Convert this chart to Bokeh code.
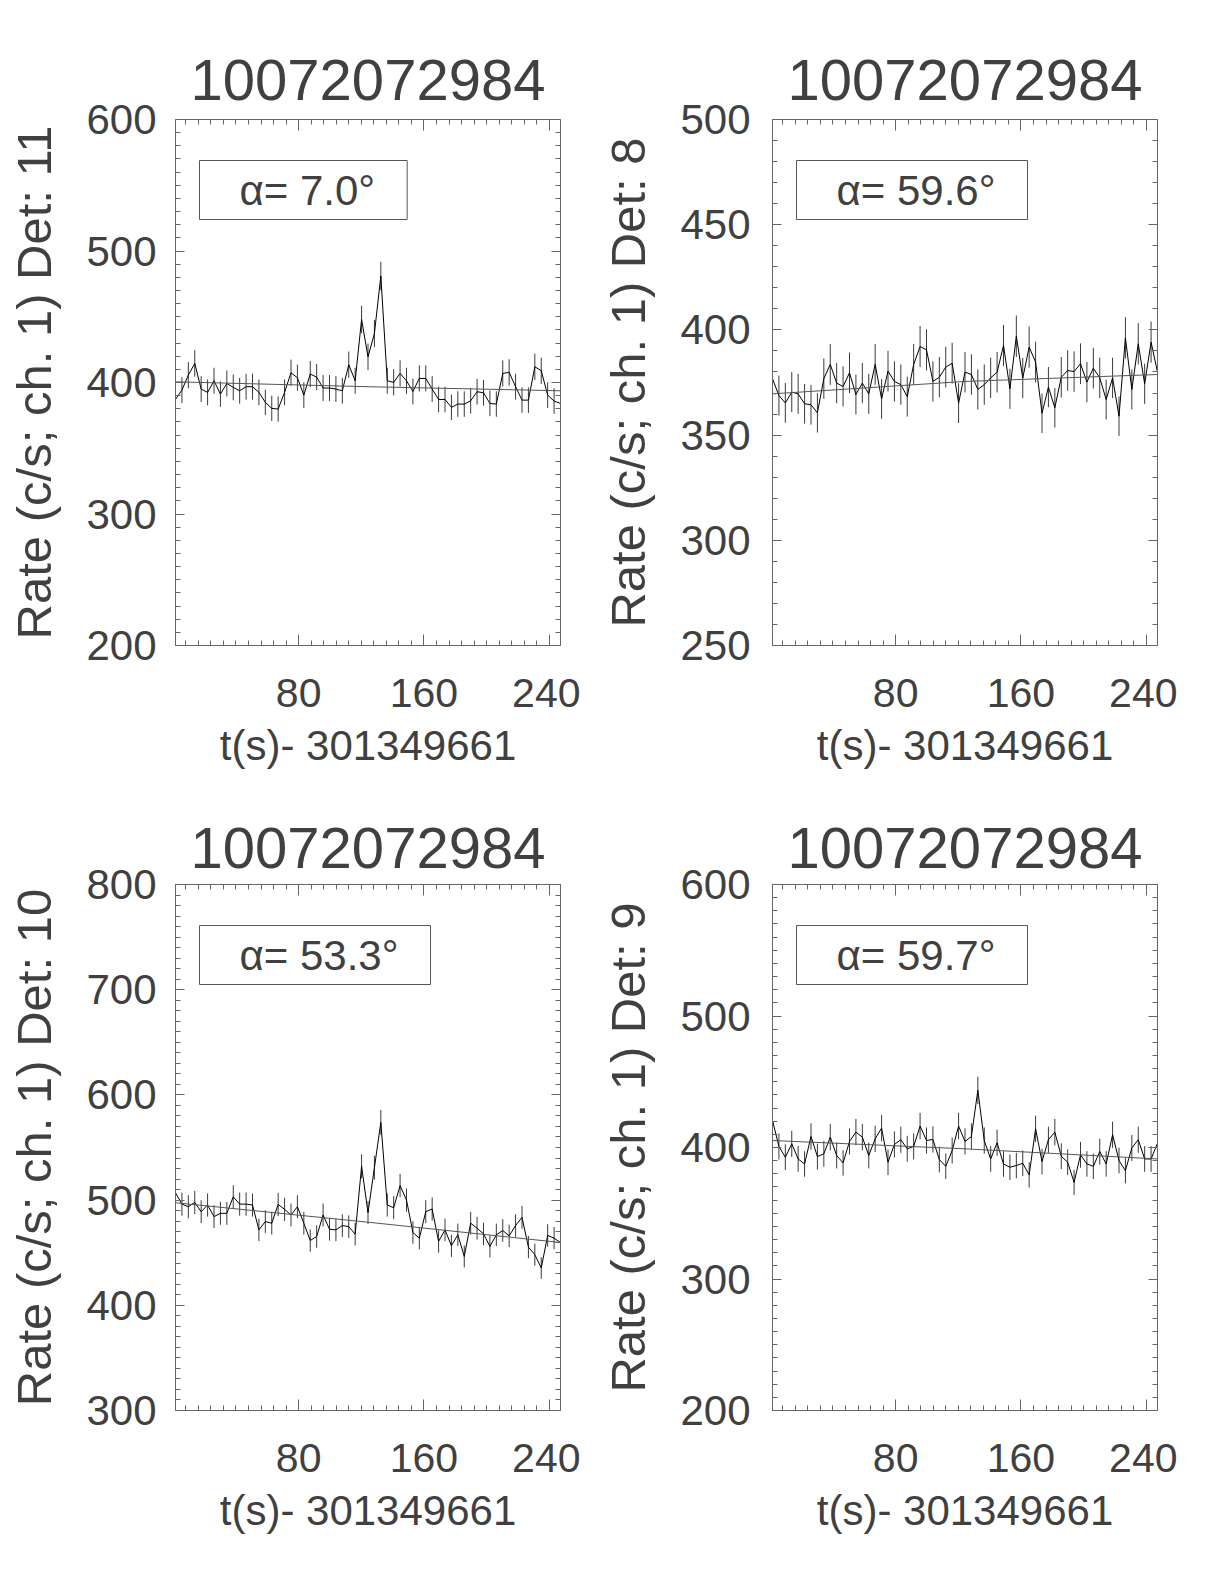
import numpy as np
from bokeh.plotting import figure
from bokeh.models import Range1d, FixedTicker, LinearAxis, Label, CustomJSTickFormatter
from bokeh.layouts import column, row
from bokeh.embed import file_html
from bokeh.resources import INLINE

# ---------------- data ----------------
title_text = "10072072984"
x_label = "t(s)- 301349661"
t_start = 1.4          # s after 301349661
bin_width = 4.096      # s
n_bins = 61
x_ticks = [80, 160, 240]

det_names = ["11", "8", "10", "9"]
alpha_deg = [7.0, 59.6, 53.3, 59.7]
y_limits = [(200, 600), (250, 500), (300, 800), (200, 600)]
y_ticks = [[200, 300, 400, 500, 600],
           [250, 300, 350, 400, 450, 500],
           [300, 400, 500, 600, 700, 800],
           [200, 300, 400, 500, 600]]

rate_det11 = [387.1, 394.2, 405.6, 414.5, 395.0, 392.5, 401.3, 391.2, 399.3, 396.3,
              393.7, 396.8, 396.8, 392.5, 384.9, 380.3, 379.8, 392.5, 407.4, 403.6,
              390.4, 406.4, 404.1, 395.8, 395.8, 395.0, 393.7, 413.5, 401.3, 447.9,
              419.5, 437.3, 481.0, 401.3, 400.1, 406.9, 401.3, 393.2, 403.1, 403.1,
              395.0, 387.1, 387.1, 381.1, 383.6, 383.6, 386.1, 393.0, 392.2, 384.1,
              383.6, 406.9, 407.7, 396.8, 386.6, 386.6, 412.0, 408.9, 390.4, 385.9,
              384.1]
rate_det8 = [376.8, 368.8, 365.3, 370.4, 369.6, 364.9, 364.4, 360.6, 376.8, 383.6,
             374.7, 373.1, 379.6, 369.3, 374.7, 369.6, 383.6, 367.2, 380.4, 375.5,
             374.0, 368.3, 383.6, 392.1, 390.5, 375.5, 377.5, 382.3, 384.2, 365.2,
             379.9, 378.8, 371.7, 374.0, 377.2, 379.9, 392.6, 372.0, 397.0, 377.1,
             391.8, 384.7, 360.4, 372.8, 363.0, 377.5, 380.7, 380.2, 383.9, 375.2,
             381.8, 377.2, 366.9, 377.2, 359.0, 396.2, 371.7, 393.4, 374.4, 394.2,
             379.9]
rate_det10 = [506.9, 496.2, 493.7, 497.8, 489.0, 495.3, 484.3, 487.4, 487.4, 503.1,
              496.2, 496.2, 495.3, 471.7, 479.6, 478.0, 495.9, 491.2, 485.8, 493.7,
              478.0, 461.6, 465.4, 485.8, 472.3, 471.7, 475.8, 474.8, 467.6, 532.1,
              488.0, 530.8, 573.9, 495.3, 492.8, 513.8, 500.0, 469.2, 463.8, 489.0,
              491.5, 460.7, 471.7, 456.6, 467.0, 446.5, 478.0, 473.3, 467.9, 456.0,
              467.0, 471.1, 466.0, 475.8, 483.6, 455.3, 448.1, 435.5, 466.4, 463.8,
              459.7]
rate_det9 = [420.6, 400.8, 392.6, 402.8, 391.3, 387.5, 408.4, 393.1, 395.2, 407.9,
             393.9, 388.3, 404.6, 411.7, 407.9, 393.9, 406.6, 414.7, 388.8, 402.3,
             405.9, 399.0, 400.8, 416.3, 405.3, 406.1, 390.8, 385.7, 397.7, 416.3,
             404.6, 408.4, 443.5, 405.3, 391.3, 403.6, 387.5, 385.0, 386.3, 388.0,
             379.2, 414.2, 389.3, 405.9, 411.7, 393.4, 388.8, 373.5, 394.4, 387.5,
             385.7, 396.9, 387.5, 409.7, 390.1, 382.4, 399.7, 405.9, 391.3, 391.3,
             403.3]
rates = [rate_det11, rate_det8, rate_det10, rate_det9]

# fitted background, read at start / middle / end of the interval
bg_det11 = [400.5, 396.8, 393.7]
bg_det8 = [369.6, 375.5, 378.8]
bg_det10 = [497.5, 479.0, 459.7]
bg_det9 = [405.3, 399.0, 391.3]
backgrounds = [bg_det11, bg_det8, bg_det10, bg_det9]

# ---------------- style ----------------
FONT = "Liberation Sans"
TXT = "#404040"
AX = "#666666"
FRAME_W = 385
FRAME_H = 526

t = t_start + bin_width * np.arange(n_bins)
t_end = float(t[-1])
bg_t = [t_start, (t_start + t_end) / 2, t_end]


def style_axis(ax, major_in, minor_in):
    ax.axis_line_color = AX
    ax.major_tick_line_color = AX
    ax.minor_tick_line_color = AX
    ax.major_tick_in = major_in
    ax.major_tick_out = 0
    ax.minor_tick_in = minor_in
    ax.minor_tick_out = 0


def blank_axis(ticker, major_in, minor_in):
    ax = LinearAxis(ticker=ticker, formatter=CustomJSTickFormatter(code="return ''"),
                    major_label_text_font_size="0px", major_label_standoff=0)
    style_axis(ax, major_in, minor_in)
    return ax


def make_panel(k, left_b, right_b, top_b, bottom_b, ytick_standoff, ylab_standoff, title_standoff):
    rate = np.array(rates[k])
    err = np.sqrt(rate / bin_width)
    y0, y1 = y_limits[k]
    W = left_b + FRAME_W + right_b
    H = top_b + FRAME_H + bottom_b
    p = figure(width=W, height=H, x_range=Range1d(t_start, t_end), y_range=Range1d(y0, y1),
               output_backend="svg", toolbar_location=None, x_axis_type=None, y_axis_type=None,
               min_border_left=left_b, min_border_right=right_b,
               min_border_top=top_b, min_border_bottom=bottom_b)
    p.outline_line_color = None
    p.background_fill_color = "white"
    p.border_fill_color = "white"

    xt = FixedTicker(ticks=x_ticks, minor_ticks=list(range(8, 248, 8)))
    yt = FixedTicker(ticks=y_ticks[k], minor_ticks=list(range(y0, y1 + 1, 10)))

    bottom = LinearAxis(ticker=xt, axis_label=x_label)
    style_axis(bottom, 11, 5)
    bottom.major_label_text_font = FONT
    bottom.major_label_text_font_size = "41px"
    bottom.major_label_text_color = TXT
    bottom.major_label_standoff = 33
    bottom.axis_label_text_font = FONT
    bottom.axis_label_text_font_size = "42px"
    bottom.axis_label_text_font_style = "normal"
    bottom.axis_label_text_color = TXT
    bottom.axis_label_standoff = 12
    p.add_layout(bottom, "below")

    left = LinearAxis(ticker=yt, axis_label=f"Rate (c/s; ch. 1) Det: {det_names[k]}")
    style_axis(left, 9, 5)
    left.major_label_text_font = FONT
    left.major_label_text_font_size = "42px"
    left.major_label_text_color = TXT
    left.major_label_standoff = ytick_standoff
    left.axis_label_text_font = FONT
    left.axis_label_text_font_size = "49px"
    left.axis_label_text_font_style = "normal"
    left.axis_label_text_color = TXT
    left.axis_label_standoff = ylab_standoff
    p.add_layout(left, "left")

    p.add_layout(blank_axis(yt, 9, 5), "right")
    p.add_layout(blank_axis(xt, 11, 5), "above")

    p.title.text = title_text
    p.title.align = "center"
    p.title.text_font = FONT
    p.title.text_font_size = "58px"
    p.title.text_font_style = "normal"
    p.title.text_color = TXT
    p.title.standoff = title_standoff

    # error bars, light curve, background fit
    p.segment(x0=t, y0=rate - err, x1=t, y1=rate + err, line_color="#3a3a3a", line_width=1)
    p.line(t, rate, line_color="black", line_width=1)
    p.line(bg_t, backgrounds[k], line_color="#555555", line_width=1)

    p.add_layout(Label(x=t_start, y=y1, x_offset=24, y_offset=-41,
                       text=f"α= {alpha_deg[k]:.1f}°", text_align="left", text_baseline="top",
                       text_font=FONT, text_font_size="42px", text_color=TXT,
                       border_line_color="#555555", border_line_width=1,
                       padding=dict(left=40, right=32, top=6, bottom=6)))
    return p


p1 = make_panel(0, 175, 20, 119, 136, 19, 22, 39)
p2 = make_panel(1, 192, 20, 119, 136, 22, 22, 39)
p3 = make_panel(2, 175, 20, 103, 136, 19, 22, 34)
p4 = make_panel(3, 192, 20, 103, 136, 22, 22, 34)

layout = column(row(p1, p2), row(p3, p4))
open("out.html", "w").write(file_html(layout, INLINE))
